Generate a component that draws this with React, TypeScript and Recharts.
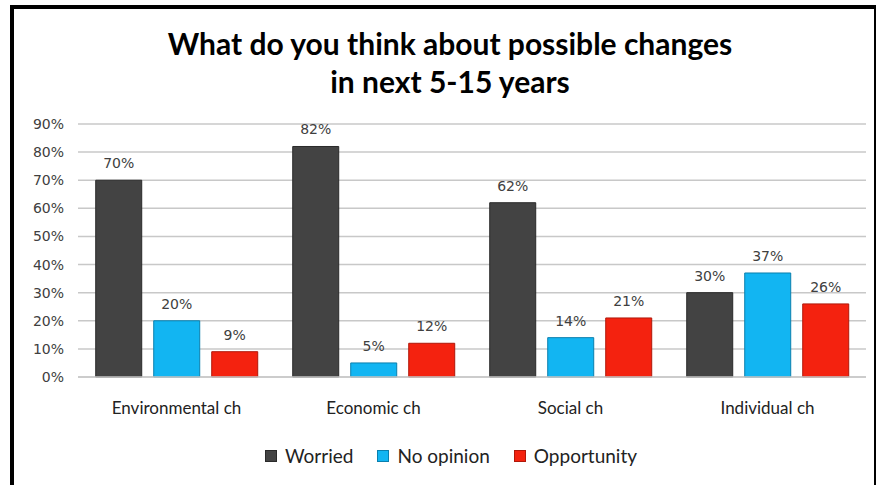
import { Bar, BarChart, CartesianGrid, LabelList, Legend, XAxis, YAxis } from "recharts";

const categories = ["Environmental ch", "Economic ch", "Social ch", "Individual ch"];
const worried = [70, 82, 62, 30];
const noOpinion = [20, 5, 14, 37];
const opportunity = [9, 12, 21, 26];
const yTicks = [0, 10, 20, 30, 40, 50, 60, 70, 80, 90];

const seriesNames = ["Worried", "No opinion", "Opportunity"];
const seriesColors = ["#434343", "#12b5f2", "#f4220f"];
const seriesStrokes = ["#2a2a2a", "#0a7fae", "#b0180a"];

const data = categories.map((name, i) => ({
    name,
    worried: worried[i],
    noOpinion: noOpinion[i],
    opportunity: opportunity[i],
}));

const pct = (v: any) => `${v}%`;

const labelStyle = { fill: "#404040", fontSize: 14, fontFamily: "DejaVu Sans" };

const renderLegend = () => (
    <div style={{ height: 22, display: "flex", alignItems: "center", justifyContent: "center", fontFamily: "Lato", fontSize: 19, color: "#222", lineHeight: "22px", paddingLeft: 60 }}>
        {seriesNames.map((n, i) => (
            <div key={n} style={{ display: "flex", alignItems: "center", marginRight: 24 }}>
                <span
                    style={{
                        display: "inline-block",
                        width: 10,
                        height: 10,
                        background: seriesColors[i],
                        border: `1px solid ${seriesStrokes[i]}`,
                        marginRight: 8,
                    }}
                />
                <span>{n}</span>
            </div>
        ))}
    </div>
);

const App = () => {
    return (
        <div style={{ position: "fixed", left: 0, top: 0, width: 882, height: 485, background: "#fff" }}>
            <div
                style={{
                    position: "absolute",
                    left: 10,
                    top: 5,
                    width: 866,
                    height: 480,
                    borderLeft: "4px solid #000",
                    borderTop: "4px solid #000",
                    borderRight: "2px solid #000",
                    boxSizing: "border-box",
                }}
            />
            <div
                style={{
                    position: "absolute",
                    left: 0,
                    top: 24,
                    width: 900,
                    textAlign: "center",
                    fontFamily: "Lato",
                    fontWeight: 700,
                    fontSize: 30,
                    lineHeight: "38px",
                    color: "#000",
                }}
            >
                What do you think about possible changes
                <br />
                in next 5-15 years
            </div>
            <BarChart
                width={882}
                height={485}
                data={data}
                margin={{ top: 124, right: 16, bottom: 4, left: 0 }}
                barCategoryGap="9%"
                barGap={12}
                style={{ position: "absolute", left: 0, top: 0 }}
            >
                <CartesianGrid vertical={false} stroke="#c8c8c8" strokeWidth={1.5} />
                <XAxis
                    dataKey="name"
                    axisLine={{ stroke: "#c8c8c8", strokeWidth: 1.5 }}
                    tickLine={false}
                    tickMargin={19}
                    height={68}
                    tick={{ fill: "#222", fontSize: 17, fontFamily: "Lato" }}
                />
                <YAxis
                    width={78}
                    domain={[0, 90]}
                    ticks={yTicks}
                    tickFormatter={pct}
                    axisLine={false}
                    tickLine={false}
                    tickMargin={8}
                    tick={{ fill: "#404040", fontSize: 14, fontFamily: "DejaVu Sans" }}
                />
                <Legend verticalAlign="bottom" align="center" height={36} content={renderLegend} />
                <Bar dataKey="worried" name={seriesNames[0]} fill={seriesColors[0]} stroke={seriesStrokes[0]} isAnimationActive={false}>
                    <LabelList dataKey="worried" position="top" offset={12} formatter={pct} style={labelStyle} />
                </Bar>
                <Bar dataKey="noOpinion" name={seriesNames[1]} fill={seriesColors[1]} stroke={seriesStrokes[1]} isAnimationActive={false}>
                    <LabelList dataKey="noOpinion" position="top" offset={12} formatter={pct} style={labelStyle} />
                </Bar>
                <Bar dataKey="opportunity" name={seriesNames[2]} fill={seriesColors[2]} stroke={seriesStrokes[2]} isAnimationActive={false}>
                    <LabelList dataKey="opportunity" position="top" offset={12} formatter={pct} style={labelStyle} />
                </Bar>
            </BarChart>
        </div>
    );
};

export default App;
